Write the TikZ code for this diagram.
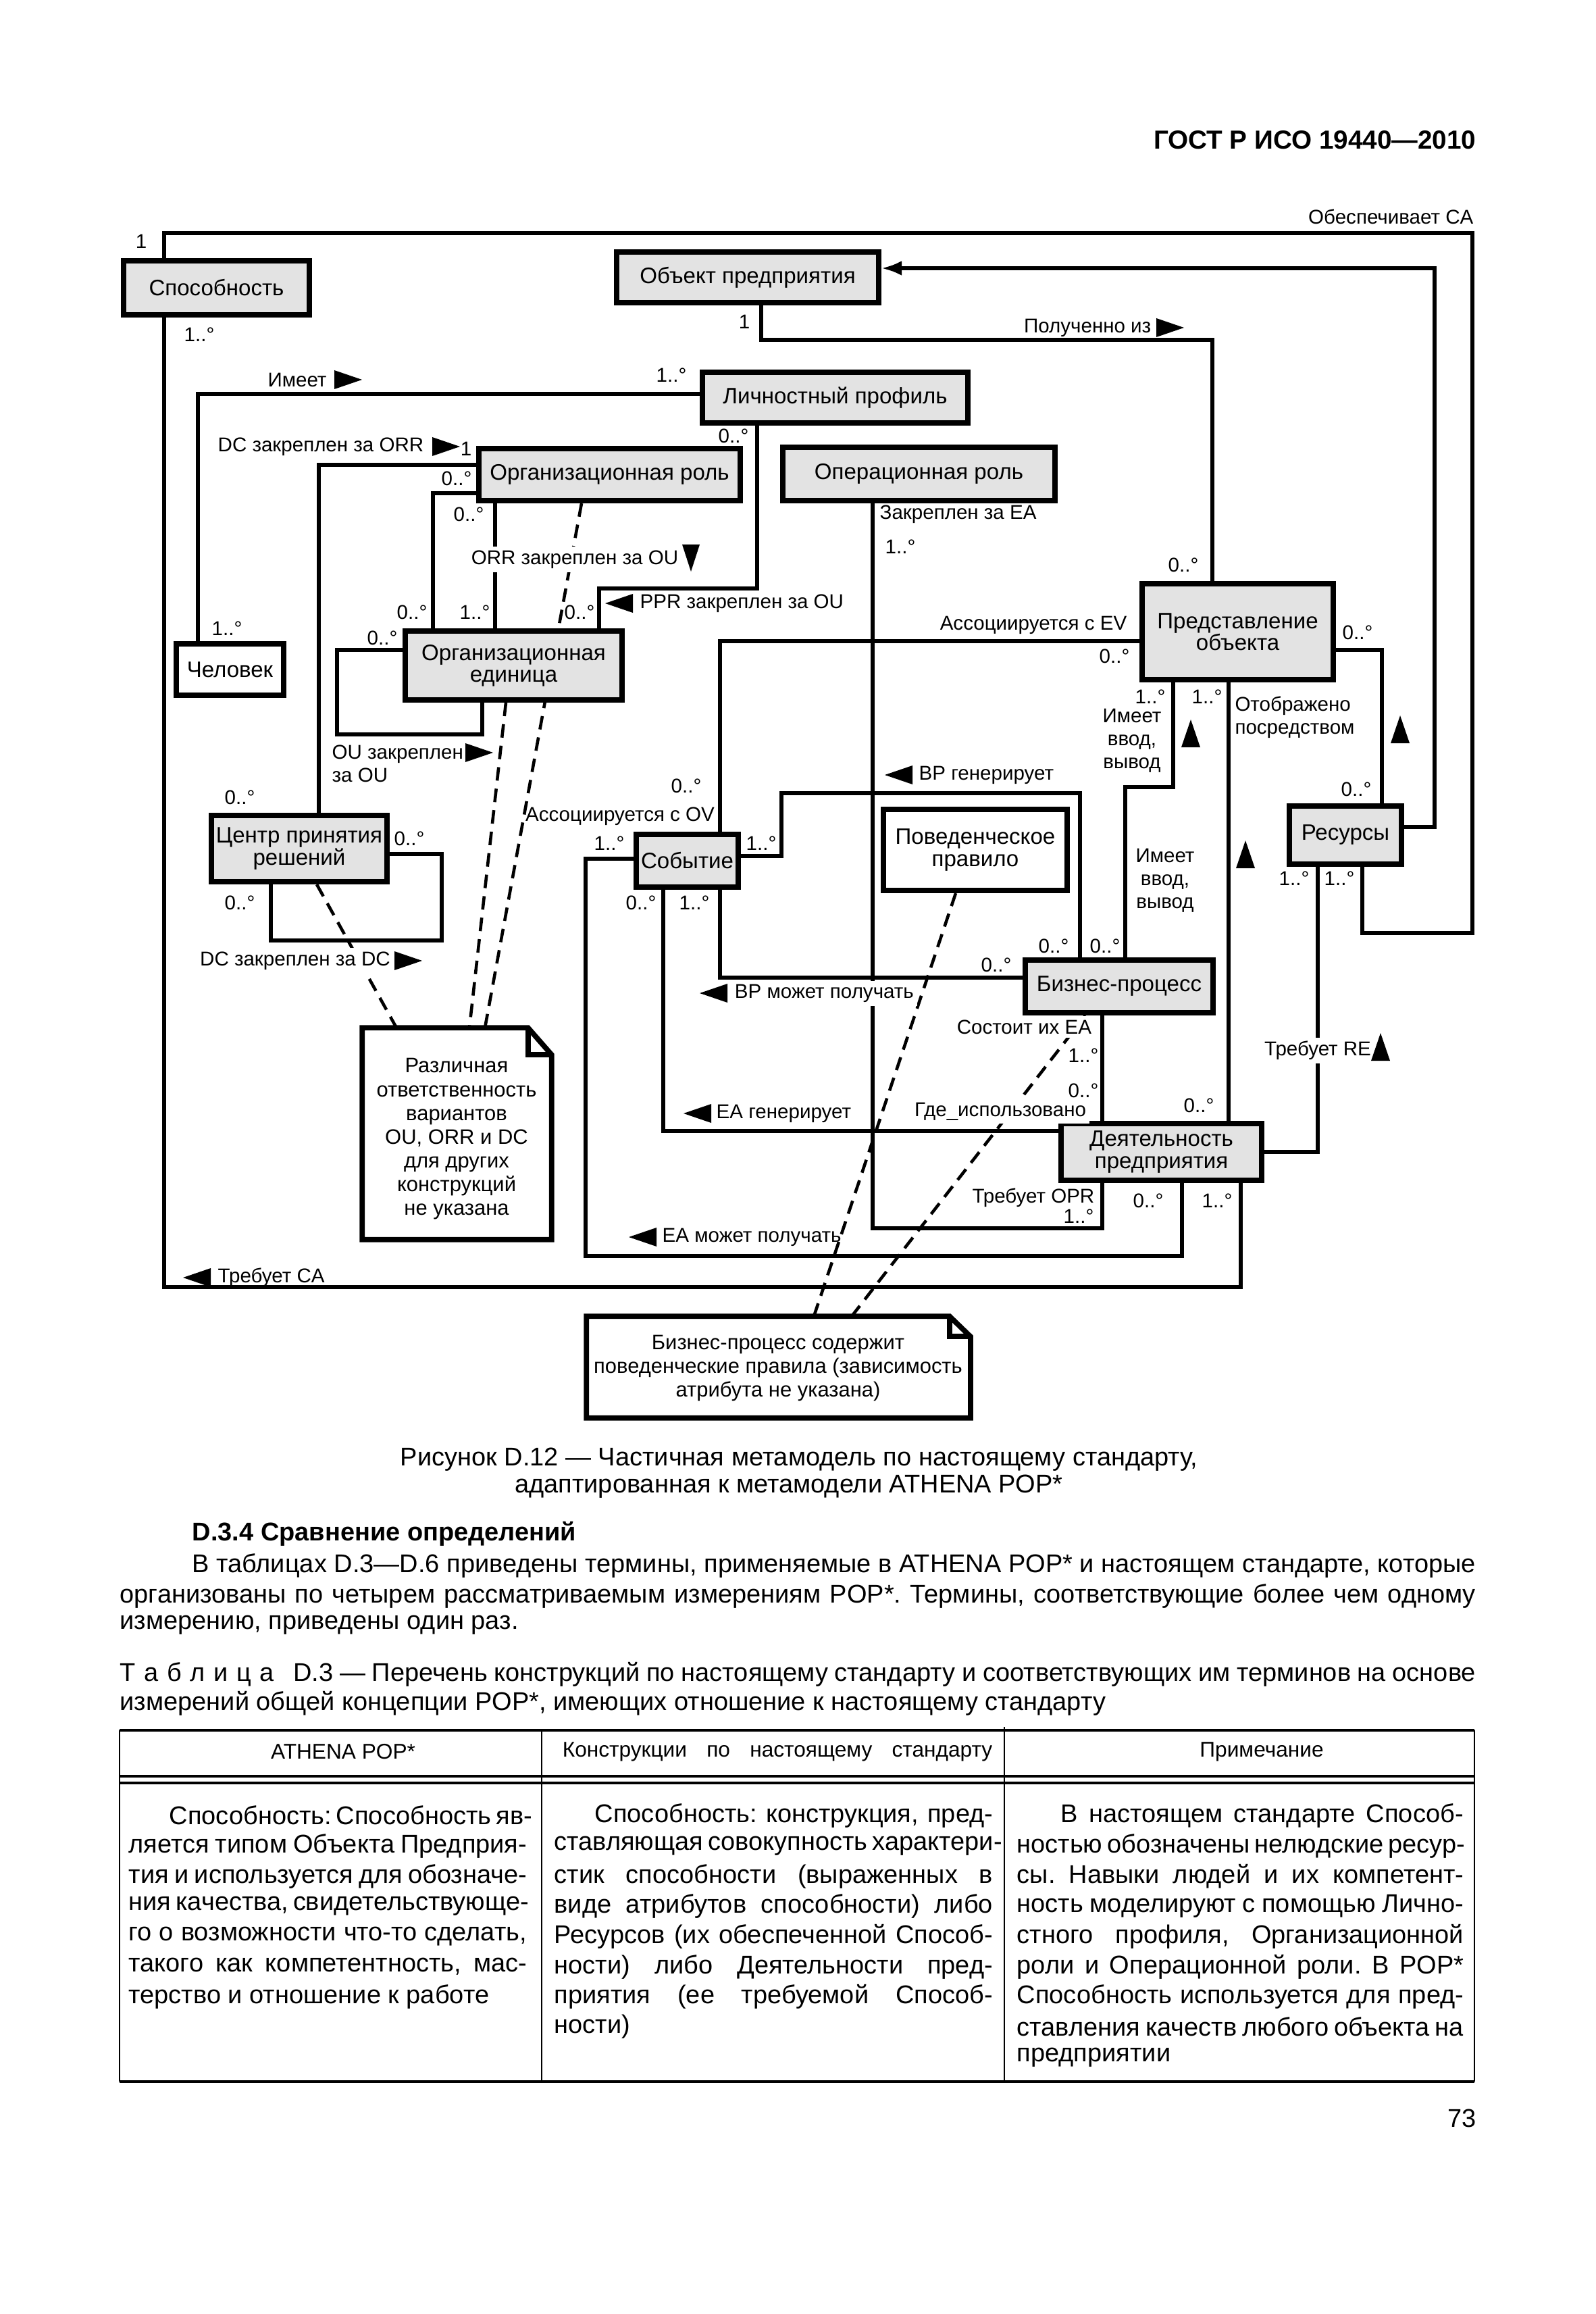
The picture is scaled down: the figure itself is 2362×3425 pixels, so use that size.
\documentclass[tikz,border=0pt]{standalone}
\usepackage{fontspec}
\setmainfont{Liberation Sans}
\usetikzlibrary{arrows.meta}
\pgfdeclarelayer{back}
\pgfdeclarelayer{bg}
\pgfsetlayers{back,bg,main}
\definecolor{boxgray}{HTML}{E3E3E3}
\frenchspacing
\newcommand{\boxfont}{\fontsize{9.4pt}{9.2pt}\selectfont}
\newcommand{\labfont}{\fontsize{8.4pt}{9.7pt}\selectfont}
\newcommand{\notefont}{\fontsize{8.8pt}{10pt}\selectfont}
\newcommand{\txtfont}{\fontsize{10.8pt}{12.6pt}\selectfont}
\newcommand{\hdrfont}{\fontsize{9pt}{11pt}\selectfont}
\newcommand{\jl}[2]{\makebox[#1][s]{#2}}
\newcommand{\tline}[5]{\node[txt, anchor=west] (#1) at (#2,#3) {\jl{#4}{#5}};}
\newcommand{\tlast}[4]{\node[txt, anchor=west] (#1) at (#2,#3) {#4};}
\begin{document}
\begin{tikzpicture}[x=0.01cm,y=-0.01cm,
  box/.style={draw, line width=2.3pt, fill=boxgray, font=\boxfont, align=center, inner sep=0pt},
  wbox/.style={box, fill=white},
  conn/.style={line width=1.5pt},
  dsh/.style={line width=1.3pt, dash pattern=on 0.2cm off 0.12cm},
  lab/.style={font=\labfont, inner sep=0pt},
  wlab/.style={lab, fill=white, inner sep=1.5pt},
  txt/.style={font=\txtfont, inner sep=0pt},
  notebox/.style={inner sep=0pt},
  triR/.pic={\fill (-20,-14) -- (21,0) -- (-20,14) -- cycle;},
  triL/.pic={\fill (20,-14) -- (-21,0) -- (20,14) -- cycle;},
  triU/.pic={\fill (-14,20) -- (0,-21) -- (14,20) -- cycle;},
  triD/.pic={\fill (-13,-20) -- (0,20) -- (13,-20) -- cycle;},
]
\useasboundingbox (0,0) rectangle (2362,3425);
\begin{pgfonlayer}{back}
\fill[white] (0,0) rectangle (2362,3425);
\end{pgfonlayer}

% ---------- boxes ----------
\node[box, minimum width=2.75cm, minimum height=0.80cm] (cap) at (320.5,426) {Способность};
\node[box, minimum width=3.88cm, minimum height=0.75cm] (eo) at (1107,410.5) {Объект предприятия};
\node[box, minimum width=3.93cm, minimum height=0.75cm] (pp) at (1236.5,588.5) {Личностный профиль};
\node[box, minimum width=3.87cm, minimum height=0.77cm] (orr) at (902.5,702.5) {Организационная роль};
\node[box, minimum width=4.03cm, minimum height=0.79cm] (opr) at (1360.5,701.5) {Операционная роль};
\node[wbox, minimum width=1.59cm, minimum height=0.76cm] (per) at (340.5,991) {Человек};
\node[box, minimum width=3.21cm, minimum height=1.02cm] (ou) at (760.5,985) {Организационная\\единица};
\node[box, minimum width=2.83cm, minimum height=1.42cm] (ov) at (1832.5,935) {Представление\\объекта};
\node[box, minimum width=1.66cm, minimum height=0.86cm] (res) at (1992,1236) {Ресурсы};
\node[box, minimum width=2.60cm, minimum height=0.98cm] (dc) at (443,1256) {Центр принятия\\решений};
\node[box, minimum width=1.51cm, minimum height=0.78cm] (ev) at (1017.5,1274) {Событие};
\node[wbox, minimum width=2.72cm, minimum height=1.20cm] (br) at (1444,1258) {Поведенческое\\правило};
\node[box, minimum width=2.78cm, minimum height=0.78cm] (bp) at (1657,1460) {Бизнес-процесс};
\node[box, minimum width=2.97cm, minimum height=0.84cm] (ea) at (1719.5,1705) {Деятельность\\предприятия};

% notes
\node[notebox, minimum width=2.79cm, minimum height=3.12cm] (n1) at (676.5,1678) {};
\draw[line width=2.2pt] (n1.north west) -- ([xshift=-0.35cm]n1.north east) -- ([yshift=-0.4cm]n1.north east) -- (n1.south east) -- (n1.south west) -- cycle;
\draw[line width=2.2pt] ([xshift=-0.35cm]n1.north east) -- ([xshift=-0.35cm,yshift=-0.4cm]n1.north east) -- ([yshift=-0.4cm]n1.north east);
\node[font=\notefont, align=center, inner sep=0pt] (n1t) at (676,1686) {Различная\\ответственность\\вариантов\\OU, ORR и DC\\для других\\конструкций\\не указана};

\node[notebox, minimum width=5.67cm, minimum height=1.49cm] (n2) at (1152.5,2023.5) {};
\draw[line width=2.2pt] (n2.north west) -- ([xshift=-0.31cm]n2.north east) -- ([yshift=-0.30cm]n2.north east) -- (n2.south east) -- (n2.south west) -- cycle;
\draw[line width=2.2pt] ([xshift=-0.31cm]n2.north east) -- ([xshift=-0.31cm,yshift=-0.30cm]n2.north east) -- ([yshift=-0.30cm]n2.north east);
\node[font=\notefont, align=center, inner sep=0pt] (n2t) at (1152,2025) {Бизнес-процесс содержит\\поведенческие правила (зависимость\\атрибута не указана)};

% ---------- helper coordinates ----------
\coordinate (c1a) at (243,345); \coordinate (c1b) at (2180,345);
\coordinate (c1c) at (2180,1381); \coordinate (c1d) at (2017,1381);
\coordinate (c2a) at (243,1905); \coordinate (c2b) at (1837,1905);
\coordinate (c3a) at (1127,503); \coordinate (c3b) at (1795,503);
\coordinate (c4a) at (2124,1224); \coordinate (c4b) at (2124,397);
\coordinate (c5a) at (293,583);
\coordinate (c6a) at (472,688);
\coordinate (c7a) at (641,730);
\coordinate (c8a) at (733,800);
\coordinate (c9a) at (1121,871); \coordinate (c9b) at (887,871);
\coordinate (c10a) at (499,962); \coordinate (c10b) at (499,1087); \coordinate (c10c) at (714,1087);
\coordinate (c11a) at (654,1264); \coordinate (c11b) at (654,1392); \coordinate (c11c) at (401,1392);
\coordinate (c12a) at (1292,1818); \coordinate (c12b) at (1632,1818);
\coordinate (c13a) at (1066,949);
\coordinate (c14a) at (1157,1267); \coordinate (c14b) at (1157,1174); \coordinate (c14c) at (1599,1174);
\coordinate (c15a) at (1066,1447);
\coordinate (c16a) at (982,1674);
\coordinate (c17a) at (867,1271); \coordinate (c17b) at (867,1859); \coordinate (c17c) at (1750,1859);
\coordinate (c18a) at (1737,1165); \coordinate (c18b) at (1666,1165);
\coordinate (c19a) at (1819,1300);
\coordinate (c20a) at (2046,962);
\coordinate (c21a) at (1951,1705);
\coordinate (c22a) at (1632,1580);
\coordinate (d1a) at (861,0); \coordinate (d1b) at (718,0);
\coordinate (d2a) at (749,0); \coordinate (d2b) at (695,0);
\coordinate (d3a) at (469,0); \coordinate (d3b) at (587,0);
\coordinate (d4a) at (1415,0); \coordinate (d4b) at (1205,0);
\coordinate (d5a) at (1607,0); \coordinate (d5b) at (1261,0);

% ---------- connectors ----------
\begin{pgfonlayer}{bg}
\draw[dsh] (orr.south -| d1a) -- (n1.north -| d1b);
\draw[dsh] (ou.south -| d2a) -- (n1.north -| d2b);
\draw[dsh] (dc.south -| d3a) -- (n1.north -| d3b);
\draw[dsh] (br.south -| d4a) -- (n2.north -| d4b);
\draw[dsh] (bp.south -| d5a) -- (n2.north -| d5b);

\draw[conn] (cap.north -| c1a) -- (c1a) -- (c1b) -- (c1c) -- (c1d) -- (res.south -| c1d);
\draw[conn] (cap.south -| c2a) -- (c2a) -- (c2b) -- (ea.south -| c2b);
\draw[conn] (eo.south -| c3a) -- (c3a) -- (c3b) -- (ov.north -| c3b);
\draw[conn, -{Latex[length=0.30cm,width=0.22cm]}] (res.east |- c4a) -- (c4a) -- (c4b) -- (eo.east |- c4b);
\draw[conn] (pp.west |- c5a) -- (c5a) -- (per.north -| c5a);
\draw[conn] (orr.west |- c6a) -- (c6a) -- (dc.north -| c6a);
\draw[conn] (orr.west |- c7a) -- (c7a) -- (ou.north -| c7a);
\draw[conn] (orr.south -| c8a) -- (ou.north -| c8a);
\draw[conn] (pp.south -| c9a) -- (c9a) -- (c9b) -- (ou.north -| c9b);
\draw[conn] (ou.west |- c10a) -- (c10a) -- (c10b) -- (c10c) -- (ou.south -| c10c);
\draw[conn] (dc.east |- c11a) -- (c11a) -- (c11b) -- (c11c) -- (dc.south -| c11c);
\draw[conn] (opr.south -| c12a) -- (c12a) -- (c12b) -- (ea.south -| c12b);
\draw[conn] (ev.north -| c13a) -- (c13a) -- (ov.west |- c13a);
\draw[conn] (ev.east |- c14a) -- (c14a) -- (c14b) -- (c14c) -- (bp.north -| c14c);
\draw[conn] (ev.south -| c15a) -- (c15a) -- (bp.west |- c15a);
\draw[conn] (ev.south -| c16a) -- (c16a) -- (ea.west |- c16a);
\draw[conn] (ev.west |- c17a) -- (c17a) -- (c17b) -- (c17c) -- (ea.south -| c17c);
\draw[conn] (ov.south -| c18a) -- (c18a) -- (c18b) -- (bp.north -| c18b);
\draw[conn] (ov.south -| c19a) -- (ea.north -| c19a);
\draw[conn] (ov.east |- c20a) -- (c20a) -- (res.north -| c20a);
\draw[conn] (ea.east |- c21a) -- (c21a) -- (res.south -| c21a);
\draw[conn] (bp.south -| c22a) -- (ea.north -| c22a);
\end{pgfonlayer}

% ---------- multiplicities ----------
\node[lab] (m1) at (209,357) {1};
\node[lab] (m2) at (295,495) {1..°};
\node[lab] (m3) at (1102,476) {1};
\node[lab] (m4) at (994,555) {1..°};
\node[lab] (m5) at (1086,645) {0..°};
\node[lab] (m6) at (690,664) {1};
\node[lab] (m7) at (676,708) {0..°};
\node[lab] (m8) at (694,761) {0..°};
\node[lab] (m9) at (1333,809) {1..°};
\node[lab] (m10) at (1752,836) {0..°};
\node[lab] (m11) at (610,906) {0..°};
\node[lab] (m12) at (703,906) {1..°};
\node[lab] (m13) at (858,906) {0..°};
\node[lab] (m14) at (336,930) {1..°};
\node[lab] (m15) at (566,944) {0..°};
\node[lab] (m16) at (2010,936) {0..°};
\node[lab] (m17) at (1650,971) {0..°};
\node[lab] (m18) at (1703,1031) {1..°};
\node[lab] (m19) at (1787,1031) {1..°};
\node[lab] (m20) at (1016,1163) {0..°};
\node[lab] (m21) at (2008,1168) {0..°};
\node[lab] (m22) at (355,1180) {0..°};
\node[lab] (m23) at (606,1241) {0..°};
\node[lab] (m24) at (902,1248) {1..°};
\node[lab] (m25) at (1127,1248) {1..°};
\node[lab] (m26) at (1916,1300) {1..°};
\node[lab] (m27) at (1983,1300) {1..°};
\node[lab] (m28) at (949,1336) {0..°};
\node[lab] (m29) at (1028,1336) {1..°};
\node[lab] (m30) at (355,1336) {0..°};
\node[lab] (m31) at (1560,1400) {0..°};
\node[lab] (m32) at (1636,1400) {0..°};
\node[lab] (m33) at (1475,1428) {0..°};
\node[lab] (m34) at (1604,1562) {1..°};
\node[lab] (m35) at (1604,1614) {0..°};
\node[lab] (m36) at (1775,1636) {0..°};
\node[lab] (m37) at (1700,1777) {0..°};
\node[lab] (m38) at (1802,1777) {1..°};
\node[lab] (m39) at (1597,1800) {1..°};

% ---------- association labels ----------
\node[lab, anchor=east] (tA) at (2182,321) {Обеспечивает CA};
\node[lab, anchor=east] (tB) at (1705,485) {Полученно из}; \pic at (1732,485) {triR};
\node[lab] (tC) at (440,562) {Имеет}; \pic at (515,562) {triR};
\node[lab, anchor=east] (tD) at (628,661) {DC закреплен за ORR}; \pic at (660,661) {triR};
\node[lab, anchor=west] (tE) at (1302,761) {Закреплен за EA};
\node[wlab] (tF) at (851,828) {ORR закреплен за OU}; \pic at (1023,826) {triD};
\pic at (917,893) {triL}; \node[lab, anchor=west] (tG) at (947,893) {PPR закреплен за OU};
\node[lab] (tH) at (1530,925) {Ассоциируется с EV};
\node[lab, align=center] (tI) at (1676,1096) {Имеет\\ввод,\\вывод}; \pic at (1763,1086) {triU};
\node[lab, align=left] (tJ) at (1917,1062) {Отображено\\посредством}; \pic at (2073,1080) {triU};
\node[lab, align=left, anchor=west] (tK) at (491,1130) {OU закреплен\\за OU}; \pic at (709,1114) {triR};
\pic at (1331,1147) {triL}; \node[lab, anchor=west] (tL) at (1360,1147) {BP генерирует};
\node[lab] (tM) at (918,1208) {Ассоциируется с OV};
\node[lab, align=center] (tN) at (1725,1303) {Имеет\\ввод,\\вывод}; \pic at (1844,1265) {triU};
\node[wlab] (tO) at (437,1422) {DC закреплен за DC}; \pic at (604,1422) {triR};
\pic at (1057,1470) {triL}; \node[wlab, anchor=west] (tP) at (1082,1470) {BP может получать};
\node[wlab, anchor=east] (tQ) at (1622,1520) {Состоит их EA};
\node[wlab] (tR) at (1951,1555) {Требует RE}; \pic at (2044,1550) {triU};
\node[wlab, anchor=east] (tS) at (1614,1645) {Где\_использовано};
\pic at (1033,1648) {triL}; \node[lab, anchor=west] (tT) at (1060,1648) {EA генерирует};
\node[lab, anchor=east] (tU) at (1621,1773) {Требует OPR};
\pic at (952,1831) {triL}; \node[lab, anchor=west] (tV) at (980,1831) {EA может получать};
\pic at (292,1891) {triL}; \node[lab, anchor=west] (tW) at (322,1891) {Требует CA};

% ---------- page text ----------
\node[font=\bfseries\fontsize{11pt}{13pt}\selectfont, anchor=east, inner sep=0pt] (hdr) at (2186,207) {ГОСТ Р ИСО 19440—2010};
\node[txt] (cp1) at (1183,2160) {Рисунок D.12 — Частичная метамодель по настоящему стандарту,};
\node[txt] (cp2) at (1168,2200) {адаптированная к метамодели ATHENA POP*};
\node[txt, font=\txtfont\bfseries, anchor=west] (sec) at (284,2270) {D.3.4 Сравнение определений};
\tline{p1}{284}{2317}{18.99cm}{В таблицах D.3—D.6 приведены термины, применяемые в ATHENA POP* и настоящем стандарте, которые}
\tline{p2}{177}{2362}{20.06cm}{организованы по четырем рассматриваемым измерениям POP*. Термины, соответствующие более чем одному}
\tlast{p3}{177}{2405}{измерению, приведены один раз.}
\tline{tt1}{177}{2478}{20.06cm}{Т\kern3.6pt а\kern3.6pt б\kern3.6pt л\kern3.6pt и\kern3.6pt ц\kern3.6pt а\kern8pt D.3 — Перечень конструкций по настоящему стандарту и соответствующих им терминов на основе}
\tlast{tt2}{177}{2521}{измерений общей концепции POP*, имеющих отношение к настоящему стандарту}

% table rules
\draw[line width=1pt] (177,2561) -- (2183,2561);
\draw[line width=0.9pt] (177,2629) -- (2183,2629);
\draw[line width=0.9pt] (177,2639) -- (2183,2639);
\draw[line width=1pt] (177,3081) -- (2183,3081);
\draw[line width=0.6pt] (177,2561) -- (177,3081);
\draw[line width=0.6pt] (802,2561) -- (802,3081);
\draw[line width=0.6pt] (1487,2556) -- (1487,3081);
\draw[line width=0.6pt] (2183,2561) -- (2183,3081);

\node[font=\hdrfont, inner sep=0pt] (th1) at (508,2593) {ATHENA POP*};
\node[font=\hdrfont, inner sep=0pt] (th2) at (1151,2593) {\jl{6.36cm}{Конструкции по настоящему стандарту}};
\node[font=\hdrfont, inner sep=0pt] (th3) at (1868,2593) {Примечание};

% column 1
\tline{a1}{250}{2687}{5.29cm}{Способность: Способность яв-}
\tline{a2}{190}{2732}{5.89cm}{ляется типом Объекта Предприя-}
\tline{a3}{190}{2777}{5.89cm}{тия и используется для обозначе-}
\tline{a4}{190}{2821}{5.89cm}{ния качества, свидетельствующе-}
\tline{a5}{190}{2866}{5.89cm}{го о возможности что-то сделать,}
\tline{a6}{190}{2911}{5.89cm}{такого как компетентность, мас-}
\tlast{a7}{190}{2955}{терство и отношение к работе}
% column 2
\tline{b1}{880}{2687}{5.89cm}{Способность: конструкция, пред-}
\tline{b2}{820}{2732}{6.49cm}{ставляющая совокупность характери-}
\tline{b3}{820}{2777}{6.49cm}{стик способности (выраженных в}
\tline{b4}{820}{2821}{6.49cm}{виде атрибутов способности) либо}
\tline{b5}{820}{2866}{6.49cm}{Ресурсов (их обеспеченной Способ-}
\tline{b6}{820}{2911}{6.49cm}{ности) либо Деятельности пред-}
\tline{b7}{820}{2955}{6.49cm}{приятия (ее требуемой Способ-}
\tlast{b8}{820}{3000}{ности)}
% column 3
\tline{e1}{1570}{2687}{5.96cm}{В настоящем стандарте Способ-}
\tline{e2}{1505}{2732}{6.61cm}{ностью обозначены нелюдские ресур-}
\tline{e3}{1505}{2777}{6.61cm}{сы. Навыки людей и их компетент-}
\tline{e4}{1505}{2821}{6.61cm}{ность моделируют с помощью Лично-}
\tline{e5}{1505}{2866}{6.61cm}{стного профиля, Организационной}
\tline{e6}{1505}{2911}{6.61cm}{роли и Операционной роли. В POP*}
\tline{e7}{1505}{2955}{6.61cm}{Способность используется для пред-}
\tline{e8}{1505}{3000}{6.61cm}{ставления качеств любого объекта на}
\tlast{e9}{1505}{3045}{предприятии}

\node[txt, anchor=east] (pg) at (2186,3135) {73};
\end{tikzpicture}
\end{document}
